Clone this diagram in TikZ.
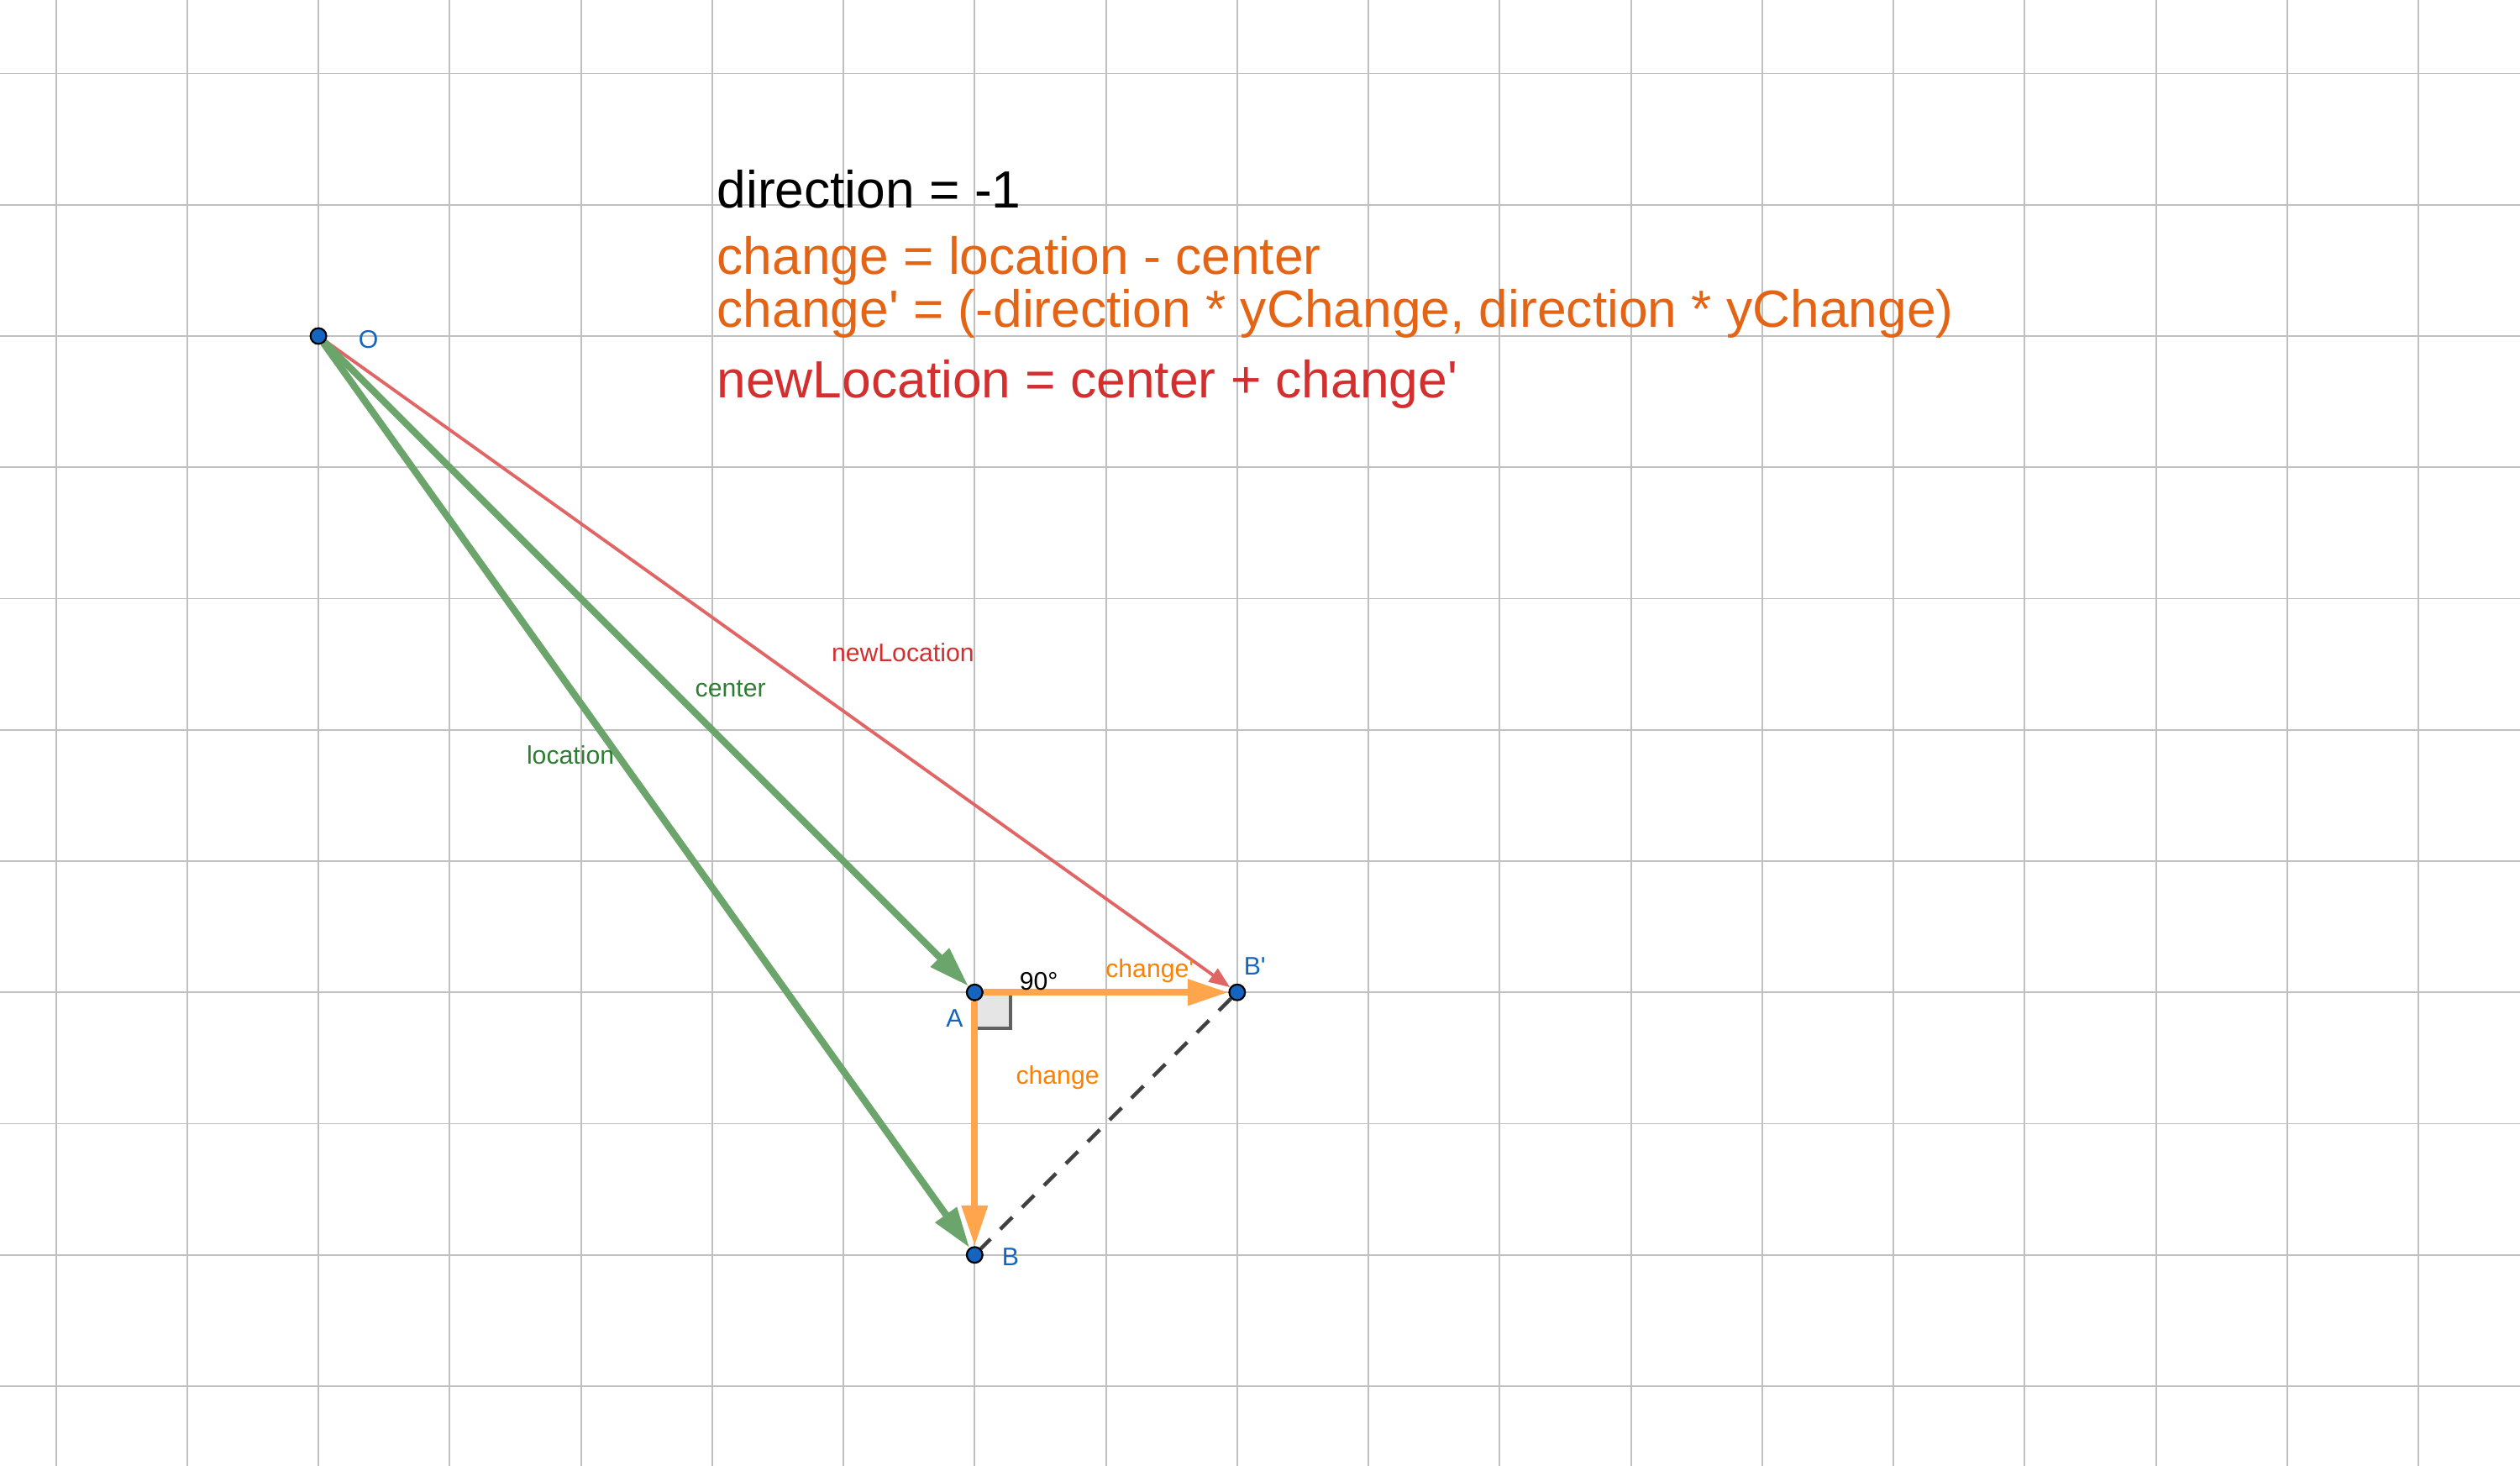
\documentclass[tikz,border=0pt]{standalone}
\usepackage{fontspec}
\setmainfont{Liberation Sans}[Ligatures=TeXOff]
\usetikzlibrary{arrows.meta,backgrounds}

\definecolor{ptblue}{RGB}{21,101,192}
\definecolor{vgreen}{RGB}{107,165,107}
\definecolor{lblgreen}{RGB}{46,125,50}
\definecolor{vorange}{RGB}{255,166,77}
\definecolor{lblorange}{RGB}{255,127,0}
\definecolor{eqorange}{RGB}{228,100,22}
\definecolor{vred}{RGB}{224,102,102}
\definecolor{lblred}{RGB}{211,47,47}
\definecolor{gridgray}{RGB}{192,192,192}
\definecolor{dashgray}{RGB}{64,64,64}
\definecolor{sqfill}{RGB}{229,229,229}
\definecolor{sqdraw}{RGB}{96,96,96}

\begin{document}
\begin{tikzpicture}[
        pt/.style={circle, fill=ptblue, draw=black, line width=0.4pt, inner sep=0pt, minimum size=0.12cm},
        lbl/.style={inner sep=0pt, anchor=base, font=\fontsize{5.5}{6.6}\selectfont},
        eq/.style={inner sep=0pt, anchor=base west, font=\fontsize{11.35}{13.6}\selectfont},
        greenvec/.style={draw=vgreen, line width=1.5pt, -{Triangle[length=3.1mm,width=1.9mm]}},
        orangevec/.style={draw=vorange, line width=1.5pt, -{Triangle[length=3.1mm,width=1.9mm]}},
        redvec/.style={draw=vred, line width=0.7pt, -{Triangle[length=1.6mm,width=1.2mm]}}
    ]
        \useasboundingbox (-2.426,-8.608) rectangle (16.774,2.56);

        % Points
        \node[pt] (O) at (0,0) {};
        \node[pt] (A) at (5,-5) {};
        \node[pt] (B) at (5,-7) {};
        \node[pt] (Bp) at (7,-5) {};

        \begin{scope}[on background layer]
            % Draw the grid
            \draw[gridgray, line width=0.35pt, step=1] (-2.426,-8.608) grid (16.774,2.56);

            % Right angle at A
            \draw[fill=sqfill, draw=sqdraw, line width=0.7pt] (A.center) rectangle ++(0.273,-0.273);

            % Dashed side
            \draw[dashgray, line width=0.8pt, dash pattern=on 3.7pt off 3pt] (Bp) -- (B);

            % Vectors
            \draw[redvec] (O) -- (Bp);
            \draw[greenvec] (O) -- (A);
            \draw[greenvec] (O) -- (B);
            \draw[orangevec] (A) -- (B);
            \draw[orangevec] (A) -- (Bp);
        \end{scope}

        % Point labels
        \node[lbl, text=ptblue] (Olbl) at (0.381,-0.09) {O};
        \node[lbl, text=ptblue] (Albl) at (4.847,-5.265) {A};
        \node[lbl, text=ptblue] (Blbl) at (5.272,-7.083) {B};
        \node[lbl, text=ptblue] (Bplbl) at (7.134,-4.868) {B'};

        % Vector labels
        \node[lbl, text=lblgreen] (centerlbl) at (3.14,-2.75) {center};
        \node[lbl, text=lblgreen] (locationlbl) at (1.92,-3.26) {location};
        \node[lbl, text=lblred] (newloclbl) at (4.453,-2.479) {newLocation};
        \node[lbl, text=lblorange] (changelbl) at (5.632,-5.70) {change};
        \node[lbl, text=lblorange] (changeplbl) at (6.334,-4.885) {change'};
        \node[lbl] (anglelbl) at (5.489,-4.981) {90°};

        % Equations
        \node[eq] (dir) at (3.03,0.973) {direction = -1};
        \node[eq, text=eqorange] (chg) at (3.03,0.469) {change = location - center};
        \node[eq, text=eqorange] (chgp) at (3.03,0.068) {change' = (-direction * yChange, direction * yChange)};
        \node[eq, text=lblred] (newloc) at (3.03,-0.469) {newLocation = center + change'};
    \end{tikzpicture}
\end{document}
